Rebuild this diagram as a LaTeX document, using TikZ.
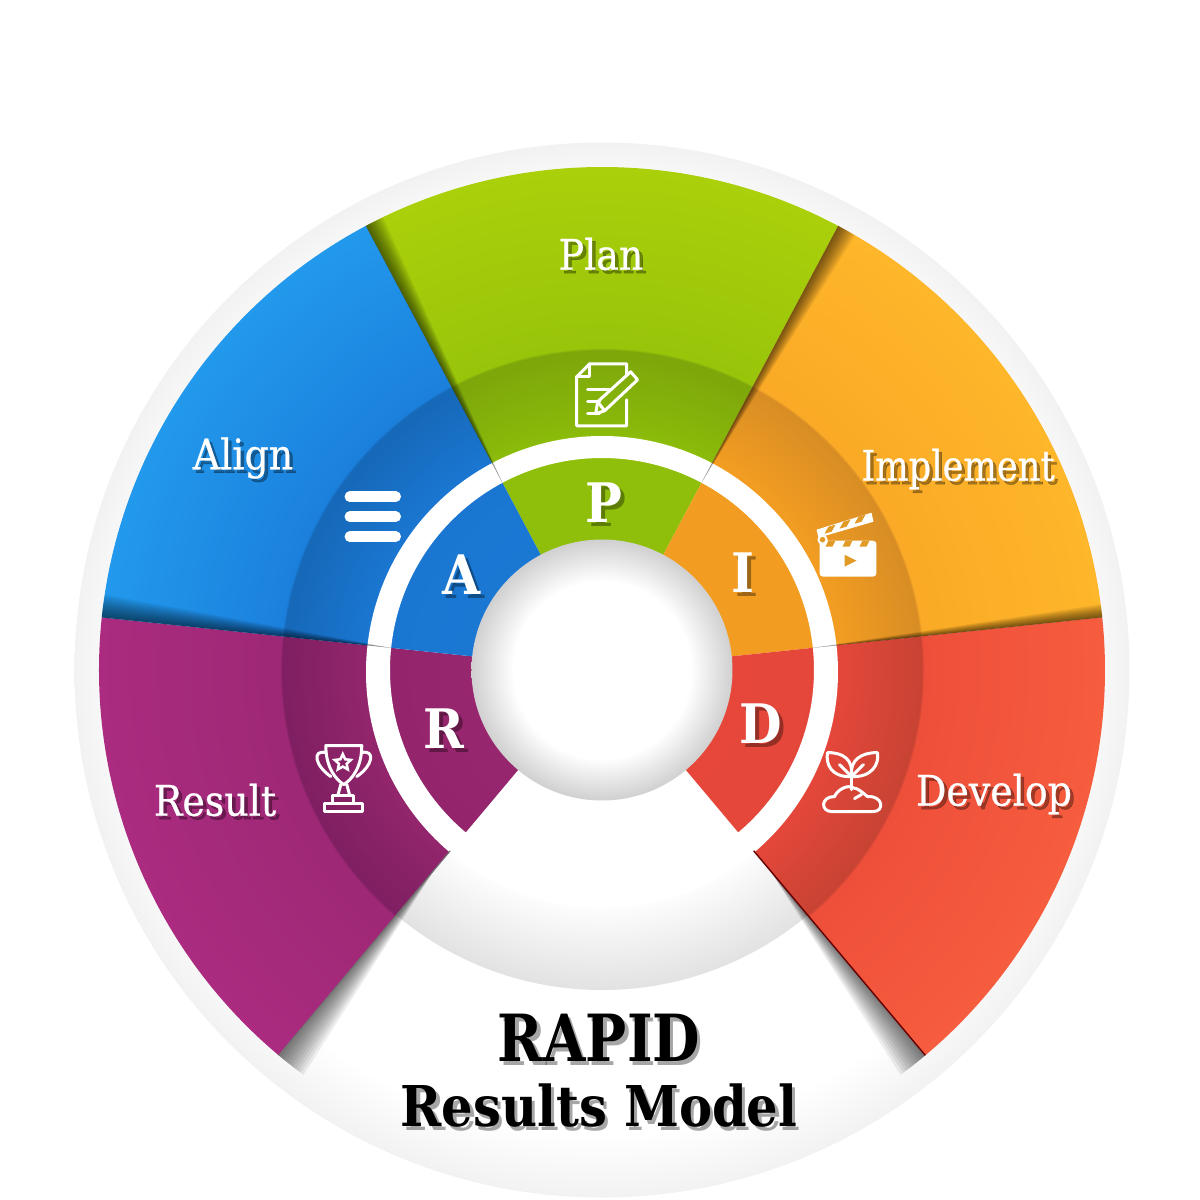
\documentclass[tikz,border=0pt]{standalone}
\usepackage{fontspec}
\setmainfont{DejaVu Serif Condensed}
\newfontfamily\wordfont[FakeBold=.6]{DejaVu Serif Condensed}
\usetikzlibrary{shapes.geometric}

\definecolor{notchorange}{HTML}{E29A26}
\definecolor{plana}{HTML}{8FBF0A}
\definecolor{planb}{HTML}{8ABA0A}
\definecolor{planc}{HTML}{7DA60A}
\definecolor{pland}{HTML}{98C40A}
\definecolor{plane}{HTML}{AAD00A}
\definecolor{impla}{HTML}{F29D22}
\definecolor{implc}{HTML}{D88D24}
\definecolor{impld}{HTML}{FAAA26}
\definecolor{imple}{HTML}{FEB62A}
\definecolor{deva}{HTML}{E8483A}
\definecolor{devb}{HTML}{E4473A}
\definecolor{devc}{HTML}{C84333}
\definecolor{devd}{HTML}{EE4F3A}
\definecolor{deve}{HTML}{F65C3E}
\definecolor{resa}{HTML}{9B2770}
\definecolor{resb}{HTML}{93256C}
\definecolor{resc}{HTML}{7F1F62}
\definecolor{resd}{HTML}{9E2875}
\definecolor{rese}{HTML}{AA2B80}
\definecolor{alia}{HTML}{1A7AD8}
\definecolor{alib}{HTML}{1A76D0}
\definecolor{alic}{HTML}{1668B8}
\definecolor{alid}{HTML}{1B80DC}
\definecolor{alie}{HTML}{2299EC}
\definecolor{rimgray}{HTML}{F2F2F2}
\definecolor{bandgray}{HTML}{E2E2E2}
\definecolor{hubgray}{HTML}{D0D0D0}

\pgfdeclareradialshading{planshade}{\pgfpointorigin}{color(0bp)=(plana); color(11.6bp)=(plana); color(11.8bp)=(planb); color(15.9bp)=(planc); color(16bp)=(pland); color(25bp)=(plane); color(50bp)=(plane)}
\pgfdeclareradialshading{implementshade}{\pgfpointorigin}{color(0bp)=(impla); color(11.8bp)=(impla); color(15.9bp)=(implc); color(16bp)=(impld); color(25bp)=(imple); color(50bp)=(imple)}
\pgfdeclareradialshading{developshade}{\pgfpointorigin}{color(0bp)=(deva); color(11.8bp)=(devb); color(15.9bp)=(devc); color(16bp)=(devd); color(25bp)=(deve); color(50bp)=(deve)}
\pgfdeclareradialshading{resultshade}{\pgfpointorigin}{color(0bp)=(resa); color(11.8bp)=(resb); color(15.9bp)=(resc); color(16bp)=(resd); color(25bp)=(rese); color(50bp)=(rese)}
\pgfdeclareradialshading{alignshade}{\pgfpointorigin}{color(0bp)=(alia); color(11.8bp)=(alib); color(15.9bp)=(alic); color(16bp)=(alid); color(25bp)=(alie); color(50bp)=(alie)}
\pgfdeclareradialshading{rimshade}{\pgfpointorigin}{color(0bp)=(white); color(22bp)=(white); color(25bp)=(rimgray); color(50bp)=(rimgray)}
\pgfdeclareradialshading{bandshade}{\pgfpointorigin}{color(0bp)=(white); color(18bp)=(white); color(25bp)=(bandgray); color(50bp)=(bandgray)}
\pgfdeclareradialshading{hubshade}{\pgfpointorigin}{color(0bp)=(white); color(17bp)=(white); color(25bp)=(hubgray); color(50bp)=(hubgray)}

\tikzstyle{wordlabel} = [text=white, font=\wordfont\fontsize{12}{14}\selectfont]
\tikzstyle{letterlabel} = [text=white, font=\fontsize{15.5}{18}\bfseries\selectfont]
\tikzstyle{titlelabel} = [text=black, font=\fontsize{18.5}{22}\bfseries\selectfont, xscale=.935, transform shape]
\tikzstyle{subtitlelabel} = [text=black, font=\fontsize{16}{18}\bfseries\selectfont, xscale=.98, transform shape]
\tikzstyle{iconline} = [white, line width=.03cm, line join=round, line cap=round]
\tikzstyle{iconpx} = [x=.01cm, y=-.01cm, shift={(-6.02cm,6.70cm)}]

\newcommand{\shadowlabel}[4]{
  \node[#3, text=black, opacity=.35, shift={(.035,-.035)}] (#1shadow) at (#2) {#4};
  \node[#3] (#1) at (#2) {#4};
}
% tapered shadow running along one wedge edge
\newcommand{\edgeshadow}[3]{
  \foreach \d in {.1,.2,...,1} {
    \pgfmathsetmacro{\e}{#1+#2*\d}
    \fill[black, opacity=.065] (#1:#3) -- (#1:5.03) arc[start angle=#1, end angle=\e, radius=5.03] -- cycle;
  }
}

\begin{document}
\begin{tikzpicture}

\useasboundingbox (-6.02,-5.30) rectangle (5.98,6.70);
\fill[white] (-6.02,-5.30) rectangle (5.98,6.70);

\shade[shading=rimshade] (0,0) circle (5.275);
\shade[shading=bandshade] (0,0) circle (3.2);

% the five wedges
\foreach \a/\b/\c in {62/118/planshade, 6/62/implementshade, -50/6/developshade, 174/230/resultshade, 118/174/alignshade} {
  \begin{scope}
    \clip (0,0) -- (\a:5.03) arc[start angle=\a, end angle=\b, radius=5.03] -- cycle;
    \shade[shading=\c] (0,0) circle (5.03);
  \end{scope}
}

\fill[white, even odd rule] (0,-.02) circle (2.36) (0,0) circle (2.12);

\edgeshadow{62}{-2.2}{2.12}
\edgeshadow{118}{-2.2}{2.12}
\edgeshadow{174}{-2.6}{2.12}
\edgeshadow{6}{1.5}{2.12}
\edgeshadow{230}{3.6}{2.6}
\edgeshadow{-50}{-3.6}{2.6}

\draw[black!55!white, line width=.3pt] (230:2.36) -- (230:5.03);
\draw[black!60!red, line width=.4pt] (-50:2.36) -- (-50:5.03);

\shade[shading=hubshade] (0,0) circle (1.305);

\shadowlabel{plan}{-0.01,4.16}{wordlabel}{Plan}
\shadowlabel{align}{-3.59,2.12}{wordlabel}{Align}
\shadowlabel{implement}{3.56,2.01}{wordlabel, xscale=.93, transform shape}{Implement}
\shadowlabel{result}{-3.87,-1.30}{wordlabel}{Result}
\shadowlabel{develop}{3.92,-1.24}{wordlabel}{Develop}
\shadowlabel{letterp}{0.02,1.67}{letterlabel}{P}
\shadowlabel{lettera}{-1.40,0.95}{letterlabel}{A}
\shadowlabel{letteri}{1.41,0.97}{letterlabel}{I}
\shadowlabel{letterr}{-1.58,-0.59}{letterlabel}{R}
\shadowlabel{letterd}{1.59,-0.54}{letterlabel}{D}
\shadowlabel{rapid}{-0.03,-3.68}{titlelabel}{RAPID}
\shadowlabel{model}{-0.03,-4.36}{subtitlelabel}{Results Model}

% icons, in pixels of the reference
\begin{scope}[iconpx]
  % note and pencil
  \draw[iconline] (627,376) -- (627,364) -- (590,364) -- (577,377) -- (577,426) -- (627,426) -- (627,400);
  \draw[iconline] (590,364) -- (590,377) -- (577,377);
  \draw[iconline] (588,390) -- (612,390);
  \draw[iconline] (588,402) -- (600,402);
  \draw[iconline] (588,414) -- (600,414);
  \draw[iconline] (596,414) -- (598,402) -- (631,372) -- (638,380) -- (605,411) -- cycle;
  \draw[iconline] (598,402) -- (605,411);

  % menu bars
  \foreach \y in {497,517,537} {
    \draw[white, line width=.105cm, line cap=round] (350,\y) -- (396,\y);
  }

  % clapper
  \fill[white, rounded corners=1pt] (820,541) rectangle (877,577);
  \foreach \x in {0,17,34} {
    \fill[notchorange] (829+\x,541) -- (836+\x,541) -- (833+\x,547) -- (826+\x,547) -- cycle;
  }
  \fill[notchorange] (845,555) -- (857,561) -- (845,567) -- cycle;
  \fill[white] (817,530) -- (872,513) -- (874,522) -- (819,538) -- cycle;
  \foreach \x in {0,15,30} {
    \fill[notchorange] (829+\x,527-\x/3) -- (836+\x,525-\x/3) -- (832+\x,532-\x/3) -- (825+\x,534-\x/3) -- cycle;
  }
  \draw[white, fill=notchorange, line width=.02cm] (823,540) circle (4);

  % trophy
  \draw[iconline] (326,746) -- (362,746) .. controls (362,768) and (352,780) .. (344,785) .. controls (336,780) and (326,768) .. (326,746) -- cycle;
  \draw[iconline] (326,753) .. controls (312,750) and (315,766) .. (331,777);
  \draw[iconline] (362,753) .. controls (376,750) and (373,766) .. (357,777);
  \draw[iconline] (341,785) -- (338,796);
  \draw[iconline] (347,785) -- (350,796);
  \draw[iconline] (333,796) rectangle (354,804);
  \draw[iconline] (325,804) rectangle (363,812);
  \node (trophystar) [star, star points=5, star point ratio=2.1, draw=white, line width=.025cm, minimum size=.17cm, inner sep=0pt] at (343,763) {};

  % plant
  \draw[iconline] (852,777) .. controls (832,778) and (826,765) .. (828,753) .. controls (844,753) and (854,760) .. (852,777);
  \draw[iconline] (852,777) .. controls (872,778) and (880,765) .. (878,753) .. controls (862,753) and (850,760) .. (852,777);
  \draw[iconline] (840,765) -- (852,777) -- (864,765);
  \draw[iconline] (852,777) -- (852,790);
  \draw[iconline] (832,812) .. controls (821,812) and (821,797) .. (835,797) .. controls (838,790) and (848,785) .. (853,788) .. controls (860,789) and (865,795) .. (868,797) .. controls (884,796) and (885,812) .. (874,812) -- cycle;
  \draw[iconline] (855,799) -- (862,795);
\end{scope}

\end{tikzpicture}
\end{document}
